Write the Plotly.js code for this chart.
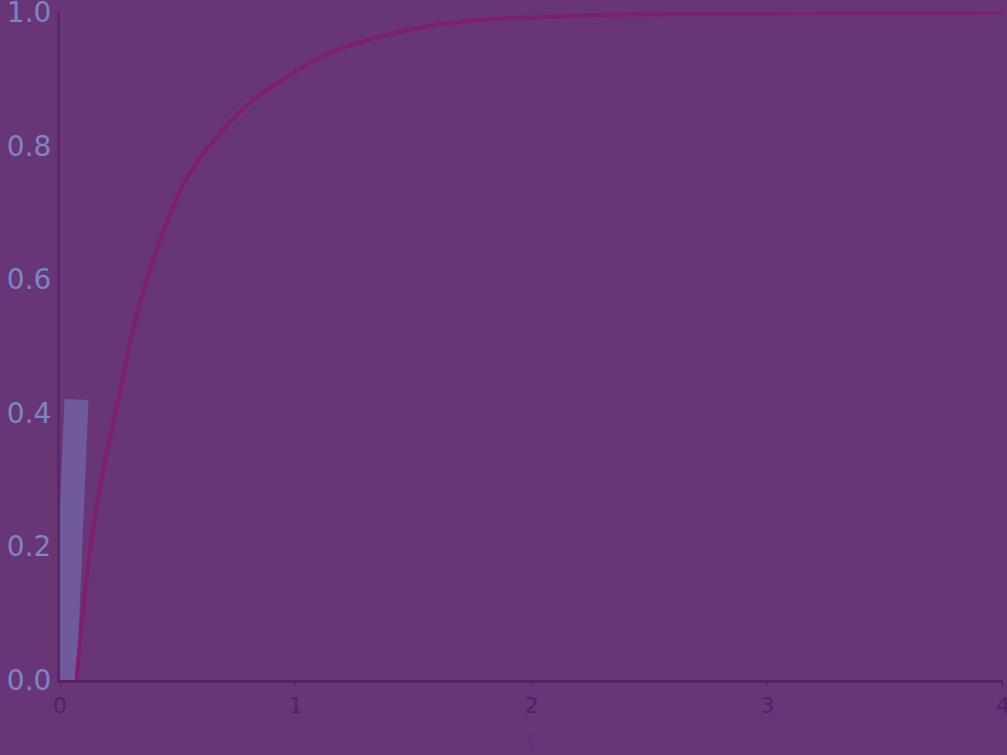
<!DOCTYPE html>
<html>
<head>
<meta charset="utf-8">
<script src="https://cdn.plot.ly/plotly-3.0.1.min.js"></script>
<style>
  html, body { margin: 0; padding: 0; background: #683577; }
  #plot { width: 1007px; height: 755px; }
</style>
</head>
<body>
<div id="plot"></div>
<script>
// response curve
var tCurve = [0.07, 0.1, 0.13, 0.17, 0.21, 0.26, 0.3, 0.36, 0.41, 0.47, 0.52, 0.6, 0.67, 0.76, 0.85, 0.95, 1.06, 1.2, 1.34, 1.5, 1.7, 1.9, 2.05, 2.3, 2.7, 3.2, 4.0];
var yCurve = [0, 0.11, 0.2, 0.29, 0.36, 0.44, 0.51, 0.59, 0.645, 0.7, 0.74, 0.785, 0.815, 0.85, 0.877, 0.9, 0.924, 0.947, 0.962, 0.975, 0.986, 0.991, 0.993, 0.996, 0.998, 0.999, 1.0];

// light blue band near the y axis
var tBand = [0.02, 0.028, 0.04, 0.055, 0.07];
var yBand = [0.0, 0.1, 0.2, 0.32, 0.42];

var xTicks = [0, 1, 2, 3, 4];
var yTicks = [0, 0.2, 0.4, 0.6, 0.8, 1.0];

var bg = '#683577';

var band = {
    x: tBand,
    y: yBand,
    mode: 'lines',
    type: 'scatter',
    line: {color: 'rgba(124,136,200,0.45)', width: 24},
    hoverinfo: 'skip'
};
var curve = {
    x: tCurve,
    y: yCurve,
    mode: 'lines',
    type: 'scatter',
    line: {color: '#7e1f6c', width: 4, shape: 'spline'}
};

var layout = {
    paper_bgcolor: bg,
    plot_bgcolor: bg,
    showlegend: false,
    font: {family: 'DejaVu Sans', size: 22},
    margin: {t: 12, r: 4, l: 60, b: 75},
    xaxis: {
        range: [0, 4.0005],
        tickvals: xTicks,
        ticklabeloverflow: 'allow',
        showgrid: false,
        zeroline: false,
        showline: true,
        linecolor: '#56235f',
        linewidth: 3,
        ticks: 'outside',
        ticklen: 4,
        tickcolor: '#56235f',
        tickfont: {color: '#551f64', size: 22},
        title: {text: 't', font: {color: '#55307c', size: 22}, standoff: 18},
        automargin: false
    },
    yaxis: {
        range: [0, 1.0005],
        tickvals: yTicks,
        tickformat: '.1f',
        ticklabeloverflow: 'allow',
        showgrid: false,
        zeroline: false,
        showline: true,
        linecolor: '#5a2768',
        linewidth: 3,
        ticks: '',
        tickfont: {color: '#7c86c6', size: 28},
        automargin: false
    }
};
Plotly.newPlot('plot', [band, curve], layout, {displayModeBar: false, responsive: false});
</script>
</body>
</html>
